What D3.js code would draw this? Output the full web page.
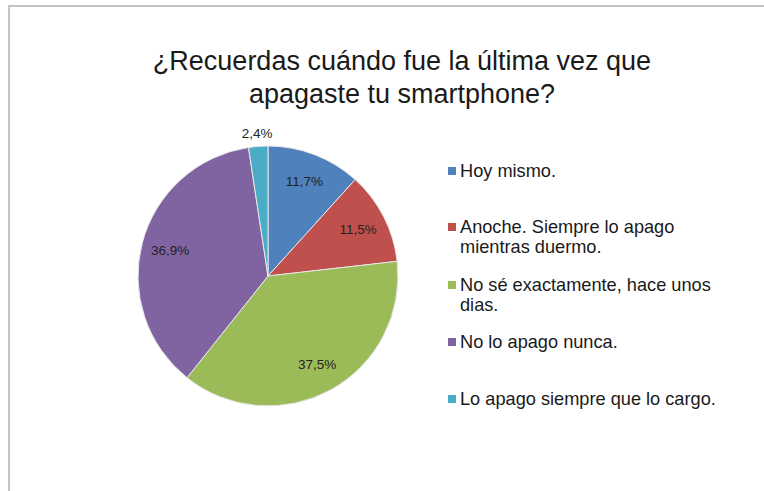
<!DOCTYPE html>
<html><head><meta charset="utf-8">
<script src="https://cdn.jsdelivr.net/npm/d3@7"></script>
<style>body{margin:0;background:#fff;}svg{display:block;font-family:"Liberation Sans",Arial,sans-serif;}</style>
</head><body><svg id="c" width="764" height="491"></svg>
<script>
const titleLines = ["¿Recuerdas cuándo fue la última vez que", "apagaste tu smartphone?"];
const categories = ["Hoy mismo.", "Anoche. Siempre lo apago mientras duermo.", "No sé exactamente, hace unos dias.", "No lo apago nunca.", "Lo apago siempre que lo cargo."];
const legendLines = [["Hoy mismo."], ["Anoche. Siempre lo apago", "mientras duermo."], ["No sé exactamente, hace unos", "dias."], ["No lo apago nunca."], ["Lo apago siempre que lo cargo."]];
const values = [11.7, 11.5, 37.5, 36.9, 2.4];
const valueLabels = ["11,7%", "11,5%", "37,5%", "36,9%", "2,4%"];
const colors = ["#4f81bd", "#c0504d", "#9bbb59", "#8064a2", "#4bacc6"];

const svg = d3.select("#c");
// frame
svg.append("path").attr("d", "M9,491 V6 H764").attr("fill", "none").attr("stroke", "#c4c4c4").attr("stroke-width", 2);

const title = svg.append("text").attr("text-anchor", "middle").attr("font-size", 27).attr("fill", "#1a1a1a");
titleLines.forEach((t, i) => title.append("tspan").attr("x", 402).attr("y", 70 + i * 33).text(t));

const cx = 268, cy = 276, r = 130;
const pie = d3.pie().sort(null).value(d => d)(values);
const arc = d3.arc().innerRadius(0).outerRadius(r);
const g = svg.append("g").attr("transform", `translate(${cx},${cy})`);
g.selectAll("path").data(pie).join("path")
  .attr("d", arc).attr("fill", (d, i) => colors[i])
  .attr("stroke", "#e8e8e8").attr("stroke-width", 1);

const labelArc = d3.arc().innerRadius(r * 0.78).outerRadius(r * 0.78);
const outArc = d3.arc().innerRadius(r * 1.1).outerRadius(r * 1.1);
g.selectAll("text.v").data(pie).join("text").attr("class", "v")
  .attr("transform", (d, i) => {
    const p = (i === 4 ? outArc : labelArc).centroid(d);
    return `translate(${p[0]},${p[1]})`;
  })
  .attr("text-anchor", "middle").attr("dy", "0.35em")
  .attr("font-size", 13.5).attr("fill", "#222")
  .text((d, i) => valueLabels[i]);

const legendY = [177, 233, 291, 348, 405];
const lg = svg.append("g");
legendLines.forEach((lines, i) => {
  lg.append("rect").attr("x", 448).attr("y", legendY[i] - 10).attr("width", 8).attr("height", 8).attr("fill", colors[i]);
  const t = lg.append("text").attr("font-size", 18.2).attr("fill", "#1a1a1a");
  lines.forEach((l, j) => t.append("tspan").attr("x", 460).attr("y", legendY[i] + j * 20).text(l));
});
</script></body></html>
